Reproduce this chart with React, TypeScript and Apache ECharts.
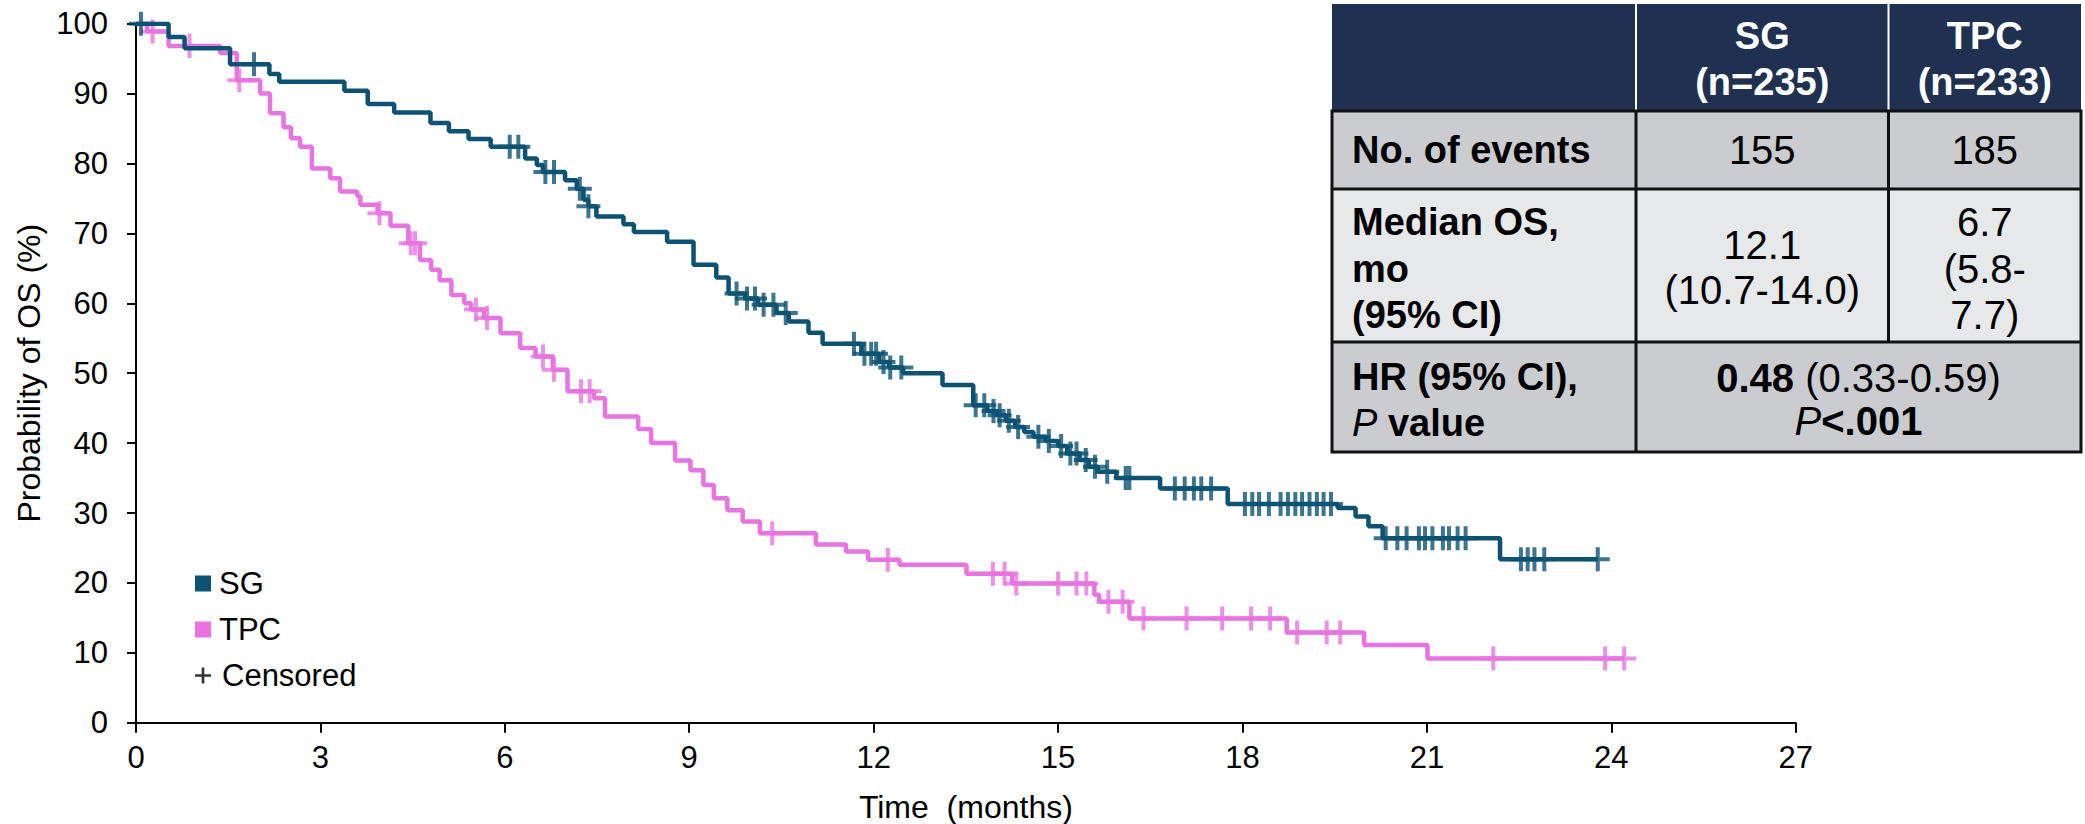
import { useEffect, useRef } from 'react';
import * as echarts from 'echarts';

const FONT = "'Liberation Sans', Arial, Helvetica, sans-serif";
const SG_COLOR = '#0C5273';
const TPC_COLOR = '#E874E1';
const PLUS = 'path://M10 0H14V10H24V14H14V24H10V14H0V10H10Z';

// Kaplan-Meier steps: [time (months), OS probability (%) after the event]
const sgSteps: [number, number][] = [
  [0, 100], [0.53, 98.1], [0.79, 96.5], [1.53, 94.2], [2.17, 92.8], [2.33, 91.7],
  [3.39, 90.4], [3.77, 88.5], [4.2, 87.3], [4.79, 85.8], [5.09, 84.6], [5.41, 83.5],
  [5.77, 82.4], [6.33, 80.7], [6.52, 79.8], [6.62, 78.8], [6.98, 77.6], [7.17, 76.4],
  [7.28, 74.8], [7.36, 73.9], [7.49, 72.4], [7.93, 71.3], [8.1, 70.2], [8.64, 68.8],
  [9.07, 65.5], [9.44, 63.7], [9.64, 61.4], [9.91, 60.7], [10.12, 59.8], [10.42, 58.6],
  [10.62, 57.4], [10.94, 55.8], [11.17, 54.2], [11.8, 52.8], [12.09, 51.6], [12.25, 50.8],
  [12.48, 50.0], [13.12, 48.3], [13.62, 45.4], [13.85, 44.6], [14.0, 44.0], [14.15, 43.2],
  [14.3, 42.3], [14.45, 41.6], [14.6, 40.9], [14.8, 40.3], [15.0, 39.6], [15.15, 38.5],
  [15.35, 37.6], [15.5, 36.6], [15.65, 35.9], [15.95, 35.0], [16.66, 33.5], [17.76, 31.3],
  [19.55, 30.7], [19.84, 29.5], [20.05, 28.1], [20.28, 26.4], [22.19, 23.4], [23.78, 23.4],
];
const sgCensorTimes: number[] = [
  0.08, 1.92, 6.08, 6.22, 6.66, 6.8, 7.22, 7.36, 9.77, 9.94, 10.07, 10.21, 10.37, 10.57,
  11.68, 11.85, 11.96, 12.04, 12.16, 12.27, 12.45, 13.66, 13.8, 13.95, 14.05, 14.2, 14.35,
  14.68, 14.85, 15.05, 15.2, 15.3, 15.45, 15.6, 15.8, 16.1, 16.16, 16.9, 17.06, 17.21,
  17.33, 17.49, 18.04, 18.16, 18.27, 18.43, 18.62, 18.74, 18.86, 18.97, 19.09, 19.21,
  19.32, 19.44, 20.33, 20.52, 20.67, 20.87, 20.97, 21.09, 21.26, 21.36, 21.5, 21.63,
  22.53, 22.64, 22.75, 22.91, 23.78,
];

const tpcSteps: [number, number][] = [
  [0, 100], [0.18, 98.9], [0.53, 96.8], [1.37, 95.8], [1.64, 91.9], [2.02, 90.0],
  [2.18, 87.2], [2.4, 85.2], [2.52, 83.6], [2.67, 82.4], [2.86, 79.3], [3.16, 77.9],
  [3.32, 76.0], [3.6, 75.3], [3.65, 74.1], [3.93, 72.9], [4.14, 71.1], [4.43, 68.6],
  [4.62, 66.2], [4.8, 64.8], [4.94, 63.3], [5.13, 61.2], [5.34, 60.0], [5.45, 59.1],
  [5.66, 57.9], [5.93, 55.7], [6.25, 53.6], [6.5, 52.4], [6.78, 50.5], [7.02, 47.4],
  [7.45, 46.4], [7.63, 43.8], [8.17, 42.0], [8.38, 40.0], [8.77, 37.5], [9.02, 36.1],
  [9.23, 34.0], [9.4, 32.1], [9.62, 30.4], [9.87, 28.8], [10.15, 27.1], [11.06, 25.5],
  [11.55, 24.5], [11.91, 23.3], [12.42, 22.6], [13.51, 21.3], [14.25, 19.9], [15.59, 18.3],
  [15.67, 17.3], [16.16, 14.9], [18.72, 12.9], [19.98, 11.1], [21.01, 9.2], [24.21, 9.2],
];
const tpcCensorTimes: number[] = [
  0.27, 0.87, 1.68, 3.96, 4.47, 4.54, 5.53, 5.71, 6.62, 6.8, 7.24, 7.38, 10.35, 12.23,
  13.94, 14.13, 14.32, 15.0, 15.3, 15.46, 15.82, 16.05, 16.39, 17.09, 17.67, 18.14, 18.45,
  18.89, 19.37, 19.59, 22.08, 23.9, 24.21,
];

const seriesNames = ['SG', 'TPC'];
const censorLabel = 'Censored';
const xAxisTitle = 'Time  (months)';
const yAxisTitle = 'Probability of OS (%)';

// Summary table
const headerCells = ['SG\n(n=235)', 'TPC\n(n=233)'];
const eventsLabel = 'No. of events';
const eventsValues = ['155', '185'];
const medianLabel = 'Median OS,\nmo\n(95% CI)';
const medianValues = ['12.1\n(10.7-14.0)', '6.7\n(5.8-\n7.7)'];
const hrLabel = 'HR (95% CI),\n{i|P} {b|value}';
const hrValue = '{b|0.48} (0.33-0.59)\n{i|P}{b|<.001}';

function levelAt(steps: [number, number][], t: number): number {
  let v = steps[0][1];
  for (const [st, sp] of steps) {
    if (st <= t) v = sp;
    else break;
  }
  return v;
}

function txt(x: number, y: number, text: string, opts: any = {}) {
  const size = opts.size ?? 38;
  const weight = opts.weight ?? 'normal';
  const align = opts.align ?? 'center';
  const lh = opts.lh ?? 46;
  const fill = opts.fill ?? '#000';
  const rich = {
    b: { fontWeight: 'bold', fontSize: size, fontFamily: FONT, lineHeight: lh, fill },
    i: { fontStyle: 'italic', fontWeight: 'normal', fontSize: size, fontFamily: FONT, lineHeight: lh, fill },
  };
  return {
    type: 'text',
    x,
    y,
    z: 10,
    style: {
      text,
      fill,
      fontSize: size,
      fontWeight: weight,
      fontFamily: FONT,
      lineHeight: lh,
      align,
      verticalAlign: 'middle',
      textAlign: align,
      textVerticalAlign: 'middle',
      rich,
    },
  };
}

function buildTable() {
  const L = 1332, R = 2081, C1 = 1636, C2 = 1888.5;
  const T = 4, H1 = 111, H2 = 189, H3 = 342, B = 452;
  const els: any[] = [
    { type: 'rect', shape: { x: L, y: T, width: R - L, height: H1 - T }, style: { fill: '#1F3050' } },
    { type: 'rect', shape: { x: L, y: H1, width: R - L, height: H2 - H1 }, style: { fill: '#CBCCD0' } },
    { type: 'rect', shape: { x: L, y: H2, width: R - L, height: H3 - H2 }, style: { fill: '#E7E8EA' } },
    { type: 'rect', shape: { x: L, y: H3, width: R - L, height: B - H3 }, style: { fill: '#CBCCD0' } },
    { type: 'line', shape: { x1: C1, y1: T, x2: C1, y2: H1 }, style: { stroke: '#FFFFFF', lineWidth: 2 } },
    { type: 'line', shape: { x1: C2, y1: T, x2: C2, y2: H1 }, style: { stroke: '#FFFFFF', lineWidth: 2 } },
    { type: 'rect', shape: { x: L, y: H1, width: R - L, height: B - H1 }, style: { fill: 'none', stroke: '#111', lineWidth: 3 } },
    { type: 'line', shape: { x1: L, y1: H2, x2: R, y2: H2 }, style: { stroke: '#111', lineWidth: 3 } },
    { type: 'line', shape: { x1: L, y1: H3, x2: R, y2: H3 }, style: { stroke: '#111', lineWidth: 3 } },
    { type: 'line', shape: { x1: C1, y1: H1, x2: C1, y2: B }, style: { stroke: '#111', lineWidth: 3 } },
    { type: 'line', shape: { x1: C2, y1: H1, x2: C2, y2: H3 }, style: { stroke: '#111', lineWidth: 3 } },
  ];
  const cx = [(C1 + C2) / 2, (C2 + R) / 2];
  headerCells.forEach((h, i) => els.push(txt(cx[i], 59, h, { weight: 'bold', size: 38, fill: '#FFFFFF', lh: 46 })));
  els.push(txt(1352, 150, eventsLabel, { weight: 'bold', align: 'left' }));
  eventsValues.forEach((v, i) => els.push(txt(cx[i], 150, v, { size: 40 })));
  els.push(txt(1352, 268.5, medianLabel, { weight: 'bold', align: 'left', lh: 46.5 }));
  els.push(txt(cx[0], 267.5, medianValues[0], { size: 40, lh: 45 }));
  els.push(txt(cx[1], 268.5, medianValues[1], { size: 40, lh: 46.5 }));
  els.push(txt(1352, 400, hrLabel, { weight: 'bold', align: 'left', lh: 46 }));
  els.push(txt((C1 + R) / 2, 399, hrValue, { size: 40, lh: 43 }));
  return els;
}

export default function App() {
  const ref = useRef<HTMLDivElement>(null);
  useEffect(() => {
    if (!ref.current) return;
    const chart = echarts.init(ref.current, null, { renderer: 'svg' });
    const tickText = { fontSize: 31, color: '#000', fontFamily: FONT };
    const nameText = { fontSize: 32, color: '#000', fontFamily: FONT };
    const option: any = {
      animation: false,
      backgroundColor: '#FFFFFF',
      textStyle: { fontFamily: FONT },
      grid: { left: 136, right: 289.3, top: 23.7, bottom: 101.3, containLabel: false, outerBoundsMode: 'none' },
      legend: {
        left: 195,
        top: 568,
        orient: 'vertical',
        itemWidth: 16,
        itemHeight: 16,
        itemGap: 15,
        padding: 0,
        selectedMode: false,
        textStyle: { fontSize: 31, color: '#000', fontFamily: FONT, padding: [0, 0, 0, 3] },
        data: [
          { name: seriesNames[0], icon: 'rect', itemStyle: { color: SG_COLOR } },
          { name: seriesNames[1], icon: 'rect', itemStyle: { color: TPC_COLOR } },
          {
            name: censorLabel,
            icon: PLUS,
            itemStyle: { color: '#000' },
            textStyle: { fontSize: 31, color: '#000', fontFamily: FONT, padding: [0, 0, 0, 6] },
          },
        ],
      },
      xAxis: {
        type: 'value',
        min: 0,
        max: 27,
        interval: 3,
        name: xAxisTitle,
        nameLocation: 'middle',
        nameGap: 68,
        nameTextStyle: nameText,
        axisLine: { show: true, onZero: false, lineStyle: { color: '#000', width: 2 } },
        axisTick: { show: true, length: 10, lineStyle: { color: '#000', width: 2 } },
        axisLabel: { ...tickText, margin: 19 },
        splitLine: { show: false },
      },
      yAxis: {
        type: 'value',
        min: 0,
        max: 100,
        interval: 10,
        name: yAxisTitle,
        nameLocation: 'middle',
        nameGap: 88,
        nameTextStyle: nameText,
        axisLine: { show: true, onZero: false, lineStyle: { color: '#000', width: 2 } },
        axisTick: { show: true, length: 9, lineStyle: { color: '#000', width: 2 } },
        axisLabel: { ...tickText, margin: 28 },
        splitLine: { show: false },
      },
      series: [
        {
          name: seriesNames[1],
          type: 'line',
          step: 'end',
          data: tpcSteps,
          showSymbol: false,
          symbol: 'none',
          color: TPC_COLOR,
          itemStyle: { color: TPC_COLOR },
          lineStyle: { color: TPC_COLOR, width: 4.5 },
          z: 2,
        },
        {
          name: 'TPC censored',
          type: 'scatter',
          data: tpcCensorTimes.map((t) => [t, levelAt(tpcSteps, t)]),
          symbol: PLUS,
          symbolSize: 24,
          itemStyle: { color: TPC_COLOR },
          z: 3,
        },
        {
          name: seriesNames[0],
          type: 'line',
          step: 'end',
          data: sgSteps,
          showSymbol: false,
          symbol: 'none',
          color: SG_COLOR,
          itemStyle: { color: SG_COLOR },
          lineStyle: { color: SG_COLOR, width: 4.5 },
          z: 4,
        },
        {
          name: 'SG censored',
          type: 'scatter',
          data: sgCensorTimes.map((t) => [t, levelAt(sgSteps, t)]),
          symbol: PLUS,
          symbolSize: 24,
          itemStyle: { color: SG_COLOR },
          z: 5,
        },
        {
          name: censorLabel,
          type: 'scatter',
          data: [],
          symbol: PLUS,
          itemStyle: { color: '#000' },
        },
      ],
      graphic: buildTable(),
    };
    chart.setOption(option);
    return () => chart.dispose();
  }, []);
  return (
    <div
      ref={ref}
      style={{ position: 'fixed', left: 0, top: 0, width: 2085, height: 824, background: '#FFFFFF' }}
    />
  );
}
